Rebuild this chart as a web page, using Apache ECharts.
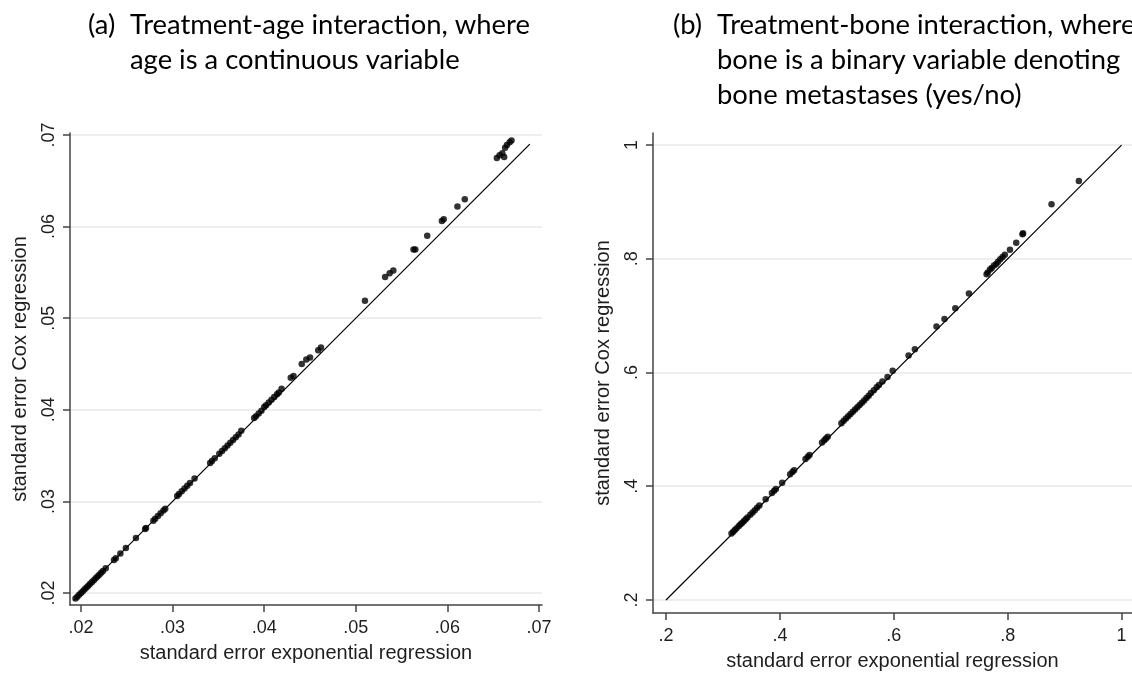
<!DOCTYPE html>
<html>
<head>
<meta charset="utf-8">
<script src="https://cdn.jsdelivr.net/npm/echarts@6/dist/echarts.min.js"></script>
<style>
html,body{margin:0;padding:0;background:#fff;}
#chart{width:1132px;height:673px;}
</style>
</head>
<body>
<div id="chart"></div>
<script>
// ---- Panel (a): treatment-age interaction ----
const aX = [0.0194,0.0196,0.0198,0.0200,0.0202,0.0204,0.0206,0.0208,0.0210,0.0212,0.0214,0.0216,0.0218,0.0220,0.0222,0.0224,0.0227,
  0.0236,0.0238,0.0243,0.0249,0.0260,0.0270,0.0271,0.0279,0.0281,0.0284,0.0287,0.0290,0.0292,
  0.0305,0.0307,0.0310,0.0313,0.0316,0.0319,0.0324,
  0.0341,0.0343,0.0346,0.0351,0.0354,0.0357,0.0360,0.0363,0.0366,0.0369,0.0372,0.0375,
  0.0389,0.0391,0.0394,0.0397,0.0400,0.0402,0.0405,0.0408,0.0411,0.0414,0.0416,0.0419,
  0.0429,0.0432,0.0441,0.0446,0.0450,0.0459,0.0462,
  0.0510,0.0532,0.0537,0.0541,0.0563,0.0565,0.0578,0.0594,0.0596,0.0611,0.0619,
  0.0654,0.0657,0.0660,0.0662,0.0663,0.0665,0.0668,0.0670];
const aY = [0.0194,0.0196,0.0198,0.0200,0.0202,0.0204,0.0206,0.0208,0.0210,0.0212,0.0214,0.0216,0.0218,0.0220,0.0222,0.0224,0.0227,
  0.0236,0.0238,0.0243,0.0249,0.0260,0.0270,0.0271,0.0279,0.0281,0.0284,0.0287,0.0290,0.0292,
  0.0306,0.0308,0.0311,0.0314,0.0317,0.0320,0.0325,
  0.0342,0.0344,0.0347,0.0352,0.0355,0.0358,0.0361,0.0364,0.0367,0.0370,0.0373,0.0377,
  0.0391,0.0393,0.0396,0.0399,0.0403,0.0405,0.0408,0.0411,0.0414,0.0417,0.0419,0.0423,
  0.0435,0.0437,0.0450,0.0455,0.0457,0.0465,0.0468,
  0.0519,0.0545,0.0549,0.0552,0.0575,0.0575,0.0590,0.0606,0.0608,0.0622,0.0630,
  0.0675,0.0678,0.0680,0.0676,0.0686,0.0689,0.0692,0.0694];
const aLine = [0.0192, 0.0690];
const aTicks = [0.02, 0.03, 0.04, 0.05, 0.06, 0.07];

// ---- Panel (b): treatment-bone interaction ----
const bX = [0.315,0.318,0.321,0.324,0.328,0.331,0.334,0.337,0.340,0.343,
  0.348,0.352,0.356,0.360,0.364,0.375,0.386,0.390,0.393,0.404,
  0.418,0.422,0.425,0.445,0.449,0.452,0.474,0.478,0.481,0.484,
  0.508,0.512,0.516,0.520,0.524,0.528,0.532,0.536,0.540,0.544,0.548,0.552,0.556,0.560,0.565,0.570,0.574,
  0.580,0.589,0.598,0.626,0.637,0.675,0.689,0.708,0.732,
  0.763,0.765,0.769,0.772,0.776,0.780,0.783,0.787,0.791,0.795,
  0.804,0.815,0.826,0.827,0.877,0.925];
const bY = [0.317,0.320,0.323,0.326,0.330,0.333,0.336,0.339,0.342,0.345,
  0.350,0.354,0.358,0.362,0.366,0.377,0.388,0.392,0.395,0.406,
  0.421,0.425,0.428,0.448,0.452,0.455,0.477,0.481,0.484,0.487,
  0.511,0.515,0.519,0.523,0.527,0.531,0.535,0.539,0.543,0.547,0.551,0.555,0.559,0.564,0.569,0.574,0.578,
  0.584,0.592,0.603,0.630,0.641,0.681,0.694,0.713,0.739,
  0.773,0.776,0.781,0.784,0.788,0.791,0.795,0.799,0.803,0.807,
  0.816,0.828,0.843,0.845,0.896,0.937];
const bLine = [0.2, 1.0];
const bTicks = [0.2, 0.4, 0.6, 0.8, 1];

const xTitle = 'standard error exponential regression';
const yTitle = 'standard error Cox regression';

function fmt(v){ const s = String(+Number(v).toFixed(3)); return s.replace(/^0\./, '.'); }
function zip(xs, ys){ return xs.map((x,i)=>[x, ys[i]]); }

const axisFont = {fontFamily:'"Liberation Sans", Arial, sans-serif', fontSize:18, color:'#1e1e1e'};
const nameFont = {fontFamily:'"Liberation Sans", Arial, sans-serif', fontSize:20, color:'#1e1e1e'};
const titleFont = {fontFamily:'Lato, "Open Sans", sans-serif', fontSize:27.4, fontWeight:'normal', color:'#000', lineHeight:35};

function mkX(idx, min, max, ticks, gap, margin){
  return {type:'value', gridIndex:idx, min:min, max:max,
    name:xTitle, nameLocation:'middle', nameGap:gap, nameTextStyle:nameFont,
    axisLine:{show:true, onZero:false, lineStyle:{color:'#444', width:1.5}},
    axisTick:{show:true, length:7, customValues:ticks, lineStyle:{color:'#444', width:1.5}},
    axisLabel:{customValues:ticks, formatter:fmt, margin:margin, ...axisFont},
    splitLine:{show:false}};
}
function mkY(idx, min, max, ticks){
  return {type:'value', gridIndex:idx, min:min, max:max,
    name:yTitle, nameLocation:'middle', nameGap:40, nameRotate:90, nameTextStyle:nameFont,
    axisLine:{show:true, onZero:false, lineStyle:{color:'#444', width:1.5}},
    axisTick:{show:true, length:7, customValues:ticks, lineStyle:{color:'#444', width:1.5}},
    axisLabel:{customValues:ticks, formatter:fmt, margin:12, rotate:90, ...axisFont},
    splitLine:{show:true, lineStyle:{color:'#e9e9e9', width:1.5}}};
}

const chart = echarts.init(document.getElementById('chart'), null, {renderer:'canvas'});
chart.setOption({
  animation:false,
  backgroundColor:'#fff',
  title:[
    {text:'(a)', left:88, top:8, padding:0, textStyle:titleFont},
    {text:'Treatment-age interaction, where\nage is a continuous variable', left:130, top:8, padding:0, textStyle:titleFont},
    {text:'(b)', left:673, top:8, padding:0, textStyle:titleFont},
    {text:'Treatment-bone interaction, where\nbone is a binary variable denoting\nbone metastases (yes/no)', left:717, top:8, padding:0, textStyle:titleFont}
  ],
  grid:[
    {left:70, top:133, width:472, height:472, containLabel:false, outerBoundsMode:'none'},
    {left:653, top:133, width:479, height:480, containLabel:false, outerBoundsMode:'none'}
  ],
  xAxis:[ mkX(0, 0.0188, 0.07033, aTicks, 38, 14), mkX(1, 0.1772, 1.0183, bTicks, 38, 14) ],
  yAxis:[ mkY(0, 0.01869, 0.07022, aTicks), mkY(1, 0.1771, 1.0212, bTicks) ],
  series:[
    {type:'line', xAxisIndex:0, yAxisIndex:0, data:[[aLine[0],aLine[0]],[aLine[1],aLine[1]]], showSymbol:false, symbol:'none', z:1,
      lineStyle:{color:'#000', width:1.2}, silent:true},
    {type:'scatter', xAxisIndex:0, yAxisIndex:0, data:zip(aX,aY), symbol:'circle', symbolSize:6.5, z:2,
      itemStyle:{color:'#000'}},
    {type:'line', xAxisIndex:1, yAxisIndex:1, data:[[bLine[0],bLine[0]],[bLine[1],bLine[1]]], showSymbol:false, symbol:'none', z:1,
      lineStyle:{color:'#000', width:1.2}, silent:true},
    {type:'scatter', xAxisIndex:1, yAxisIndex:1, data:zip(bX,bY), symbol:'circle', symbolSize:6.5, z:2,
      itemStyle:{color:'#000'}}
  ]
});
</script>
</body>
</html>
